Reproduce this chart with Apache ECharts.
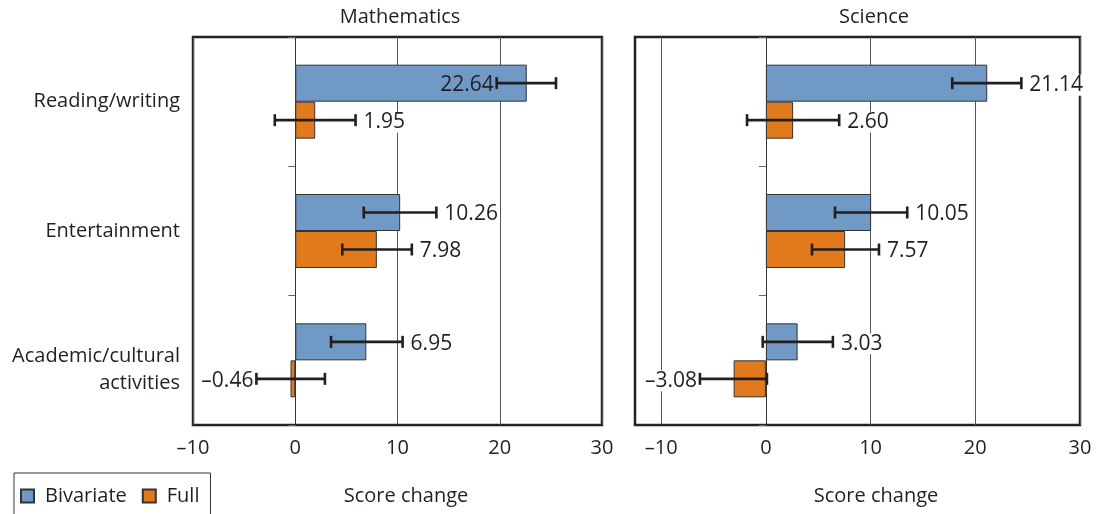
<!DOCTYPE html>
<html>
<head>
<meta charset="utf-8">
<title>Score change by activity type</title>
<script src="https://cdn.jsdelivr.net/npm/echarts@6/dist/echarts.min.js"></script>
<style>
  html, body { margin: 0; padding: 0; background: #fff; }
  #chart { width: 1103px; height: 514px; }
</style>
</head>
<body>
<div id="chart"></div>
<script>
// Activity categories (top to bottom)
const categories = ['Reading/writing', 'Entertainment', 'Academic/cultural\nactivities'];
const seriesNames = ['Bivariate', 'Full'];
const xTicks = [-10, 0, 10, 20, 30];

// Mathematics: estimates and confidence bounds
const mathBivariate = [22.64, 10.26, 6.95];
const mathBivariateLow = [19.7, 6.7, 3.5];
const mathBivariateHigh = [25.5, 13.8, 10.5];
const mathFull = [1.95, 7.98, -0.46];
const mathFullLow = [-2.0, 4.6, -3.8];
const mathFullHigh = [5.9, 11.4, 2.9];

// Science: estimates and confidence bounds
const sciBivariate = [21.14, 10.05, 3.03];
const sciBivariateLow = [17.8, 6.6, -0.3];
const sciBivariateHigh = [24.4, 13.5, 6.4];
const sciFull = [2.60, 7.57, -3.08];
const sciFullLow = [-1.8, 4.4, -6.3];
const sciFullHigh = [7.0, 10.8, 0.1];

const FONT = '"Open Sans", "Noto Sans", sans-serif';
const INK = '#231f20';
const BLUE = '#7199c6';
const ORANGE = '#e07a1c';
const BAR_W = 37;

const fmt = v => v.toFixed(2).replace('-', '\u2013');

function errorRows(low, high, vals, sIdx) {
  return vals.map((v, i) => [low[i], i, high[i], v, sIdx]);
}

function renderError(params, api) {
  const lo = api.value(0), cat = api.value(1), hi = api.value(2);
  const val = api.value(3), s = api.value(4);
  const off = (s === 0 ? -1 : 1) * BAR_W / 2;
  const pLo = api.coord([lo, cat]);
  const pHi = api.coord([hi, cat]);
  const y = pLo[1] + off;
  const cap = 6;
  const lineStyle = { stroke: INK, lineWidth: 2.6 };
  // labels go to the left when the value is negative or the right side would overflow
  const left = val < 0 || hi > 25;
  const inside = left && val > 0;
  return {
    type: 'group',
    children: [
      { type: 'line', shape: { x1: pLo[0], y1: y, x2: pHi[0], y2: y }, style: lineStyle },
      { type: 'line', shape: { x1: pLo[0], y1: y - cap, x2: pLo[0], y2: y + cap }, style: lineStyle },
      { type: 'line', shape: { x1: pHi[0], y1: y - cap, x2: pHi[0], y2: y + cap }, style: lineStyle },
      {
        type: 'text',
        style: {
          text: fmt(val),
          x: left ? pLo[0] - 2 : pHi[0] + 7,
          y: y + 2,
          align: left ? 'right' : 'left',
          verticalAlign: 'middle',
          font: '21px ' + FONT,
          fill: INK,
          backgroundColor: inside ? 'transparent' : '#fff',
          padding: [0, 1]
        }
      }
    ]
  };
}

function xAxisFor(gridIndex, min, namePad) {
  return {
    type: 'value',
    gridIndex: gridIndex,
    min: min,
    max: 30,
    position: 'bottom',
    name: 'Score change',
    nameLocation: 'middle',
    nameGap: 61,
    nameTextStyle: { fontFamily: FONT, fontSize: 20, color: INK, padding: [0, 0, 0, namePad] },
    axisLine: { show: false },
    axisTick: { show: false, customValues: xTicks },
    axisLabel: {
      customValues: xTicks,
      margin: 13,
      fontFamily: FONT, fontSize: 20, color: INK,
      formatter: v => String(v).replace('-', '\u2013')
    },
    splitLine: { show: true, lineStyle: { color: '#555', width: 1 } }
  };
}

function tickAxis(gridIndex) {
  return {
    type: 'category',
    gridIndex: gridIndex,
    data: categories,
    inverse: true,
    position: 'left',
    axisLine: { show: true, onZero: true, lineStyle: { color: '#333', width: 1 } },
    axisTick: { show: true, length: 7, inside: false, lineStyle: { color: '#666' } },
    axisLabel: { show: false },
    splitLine: { show: false }
  };
}

function barSeries(name, data, color, xi, yi) {
  return {
    type: 'bar',
    name: name,
    xAxisIndex: xi,
    yAxisIndex: yi,
    data: data,
    barWidth: BAR_W,
    barGap: '0%',
    itemStyle: { color: color, borderColor: '#333', borderWidth: 1 },
    z: 2
  };
}

function errorSeries(rows, xi, yi) {
  return {
    type: 'custom',
    xAxisIndex: xi,
    yAxisIndex: yi,
    data: rows,
    encode: { x: [0, 2], y: 1 },
    renderItem: renderError,
    clip: false,
    silent: true,
    z: 5
  };
}

const chart = echarts.init(document.getElementById('chart'), null, { renderer: 'canvas' });

chart.setOption({
  animation: false,
  textStyle: { fontFamily: FONT },
  title: [
    { text: 'Mathematics', left: 400, top: 7, textAlign: 'center', padding: 0,
      textStyle: { fontFamily: FONT, fontSize: 20, fontWeight: 'normal', color: INK } },
    { text: 'Science', left: 874, top: 7, textAlign: 'center', padding: 0,
      textStyle: { fontFamily: FONT, fontSize: 20, fontWeight: 'normal', color: INK } }
  ],
  legend: {
    data: seriesNames,
    left: 14,
    top: 473,
    orient: 'horizontal',
    itemWidth: 13,
    itemHeight: 13,
    itemGap: 15,
    icon: 'rect',
    padding: [13, 11, 30, 6],
    borderColor: '#333',
    borderWidth: 1,
    selectedMode: false,
    textStyle: { fontFamily: FONT, fontSize: 20, color: INK, padding: [0, 0, 0, 6] }
  },
  grid: [
    { left: 193, top: 37, width: 409, height: 388, show: true, borderColor: '#222', borderWidth: 2.5, backgroundColor: 'transparent' },
    { left: 635, top: 37, width: 445, height: 388, show: true, borderColor: '#222', borderWidth: 2.5, backgroundColor: 'transparent' }
  ],
  xAxis: [
    xAxisFor(0, -10, 17),
    xAxisFor(1, -12.5, 37)
  ],
  yAxis: [
    {
      type: 'category',
      gridIndex: 0,
      data: categories,
      inverse: true,
      position: 'left',
      axisLine: { show: false, onZero: false },
      axisTick: { show: false },
      axisLabel: {
        margin: 13,
        fontFamily: FONT, fontSize: 20, color: INK,
        align: 'right',
        formatter: function (v) {
          if (v.indexOf('\n') < 0) return v;
          const parts = v.split('\n');
          return '{gap|}\n' + parts.map(p => '{t|' + p + '}').join('\n');
        },
        rich: {
          gap: { lineHeight: 18, fontSize: 1 },
          t: { fontFamily: FONT, fontSize: 20, color: INK, lineHeight: 27, align: 'right' }
        }
      },
      splitLine: { show: false }
    },
    tickAxis(0),
    tickAxis(1)
  ],
  series: [
    barSeries('Bivariate', mathBivariate, BLUE, 0, 0),
    barSeries('Full', mathFull, ORANGE, 0, 0),
    errorSeries(errorRows(mathBivariateLow, mathBivariateHigh, mathBivariate, 0)
      .concat(errorRows(mathFullLow, mathFullHigh, mathFull, 1)), 0, 0),
    barSeries('Bivariate', sciBivariate, BLUE, 1, 2),
    barSeries('Full', sciFull, ORANGE, 1, 2),
    errorSeries(errorRows(sciBivariateLow, sciBivariateHigh, sciBivariate, 0)
      .concat(errorRows(sciFullLow, sciFullHigh, sciFull, 1)), 1, 2)
  ]
});
</script>
</body>
</html>
